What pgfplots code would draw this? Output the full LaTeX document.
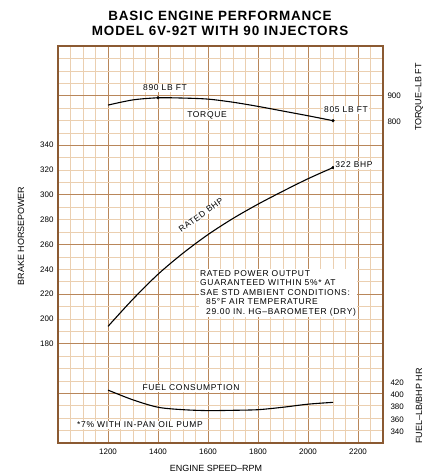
\documentclass[border=0pt]{standalone}
\usepackage{fontspec}
\setmainfont{Liberation Sans}
\usepackage{pgfplots}
\pgfplotsset{compat=1.18}
\definecolor{gmaj}{HTML}{B8865A}
\definecolor{gmin}{HTML}{EBCFB0}
\definecolor{gbord}{HTML}{8B5A32}
\newcommand{\ann}{\fontsize{8.5}{9.6}\selectfont\addfontfeatures{LetterSpace=8}}
\newcommand{\tck}{\fontsize{8}{9}\selectfont}
\pgfplotstableread{
rpm bhp
1200 194
1300 216
1400 236
1500 253
1600 268
1700 281
1800 292.5
1900 303
2000 313
2100 322
}\bhpdata
\pgfplotstableread{
rpm tq
1200 865
1300 885
1400 893
1500 892
1600 888
1700 876
1800 860
1900 842
2000 824
2100 805
}\tqdata
\pgfplotstableread{
rpm fuel
1200 408
1300 392
1400 380
1500 376
1600 374.5
1700 375
1800 376
1900 380
2000 385
2100 388
}\fueldata
\begin{document}
\begin{tikzpicture}[x=1bp,y=1bp]
\path[use as bounding box] (0,0) rectangle (433,474);
\begin{axis}[
  at={(58bp,31bp)}, anchor=south west,
  scale only axis, width=325bp, height=397bp,
  xmin=1000, xmax=2300, ymin=100, ymax=420,
  xtick={1000,1200,...,2200},
  xticklabels={,1200,1400,1600,1800,2000,2200},
  minor xtick={1050,1100,1150,1250,1300,1350,1450,1500,1550,1650,1700,1750,1850,1900,1950,2050,2100,2150,2250},
  ytick={100,140,...,420},
  yticklabels={},
  minor ytick={110,120,130,150,160,170,190,200,210,230,240,250,270,280,290,310,320,330,350,360,370,390,400,410},
  grid=both,
  major grid style={draw=gmaj, line width=0.8bp},
  minor grid style={draw=gmin, line width=0.6bp},
  axis line style={draw=gbord, line width=1.6bp},
  major tick length=0pt, minor tick length=0pt,
  extra y ticks={180,200,...,340},
  extra y tick labels={180,200,220,240,260,280,300,320,340},
  extra y tick style={grid=none, major tick length=0pt},
  tick label style={font=\tck},
  /pgf/number format/assume math mode=true,
  xticklabel style={yshift=-2bp},
  yticklabel style={xshift=-1bp},
  clip=false,
]
\addplot[black, line width=1.1bp, smooth] table[x=rpm,y=bhp] {\bhpdata};
\addplot[only marks, mark=*, mark size=1.4bp, black] coordinates {(2100,322)};
\end{axis}
\begin{axis}[
  at={(58bp,31bp)}, anchor=south west,
  scale only axis, width=325bp, height=397bp,
  xmin=1000, xmax=2300, ymin=-434.6, ymax=1092.3,
  hide x axis, axis y line*=right, y axis line style={draw=none},
  ytick={800,900}, major tick length=0pt,
  tick label style={font=\tck},
  /pgf/number format/assume math mode=true,
  yticklabel style={xshift=1bp},
  clip=false,
]
\addplot[black, line width=1.1bp, smooth] table[x=rpm,y=tq] {\tqdata};
\addplot[only marks, mark=*, mark size=1.4bp, black] coordinates {(1400,893) (2100,805)};
\end{axis}
\begin{axis}[
  at={(58bp,31bp)}, anchor=south west,
  scale only axis, width=325bp, height=397bp,
  xmin=1000, xmax=2300, ymin=321.6, ymax=970,
  hide x axis, axis y line*=right, y axis line style={draw=none},
  ytick={340,360,...,420}, major tick length=0pt,
  tick label style={font=\tck},
  /pgf/number format/assume math mode=true,
  yticklabel style={xshift=4bp},
  clip=false,
]
\addplot[black, line width=1.1bp, smooth] table[x=rpm,y=fuel] {\fueldata};
\end{axis}
% titles and axis names
\node[font=\fontsize{13.5}{15}\selectfont\bfseries\addfontfeatures{LetterSpace=6}] at (220,458) {BASIC ENGINE PERFORMANCE};
\node[font=\fontsize{13.5}{15}\selectfont\bfseries\addfontfeatures{LetterSpace=7}] at (220,443) {MODEL 6V-92T WITH 90 INJECTORS};
\node[font=\fontsize{9}{10}\selectfont] at (216,6) {ENGINE SPEED–RPM};
\node[font=\fontsize{9}{10}\selectfont, rotate=90] at (21,238) {BRAKE HORSEPOWER};
\node[font=\fontsize{9}{10}\selectfont, rotate=90] at (419,377) {TORQUE–LB FT};
\node[font=\fontsize{9}{10}\selectfont, rotate=90] at (419,68) {FUEL–LB/BHP HR};
% annotations
\node[font=\ann, fill=white, inner sep=1bp] at (165,386) {890 LB FT};
\node[font=\ann, fill=white, inner sep=1bp] at (207,359) {TORQUE};
\node[font=\ann, fill=white, inner sep=1bp] at (346,364) {805 LB FT};
\node[font=\ann, fill=white, inner sep=1bp] at (354,309) {322 BHP};
\node[font=\ann, fill=white, inner sep=0.5bp, rotate=36] at (201,259) {RATED BHP};
\node[font=\ann, fill=white, inner sep=1bp, align=left, anchor=north west] at (199,205) {RATED POWER OUTPUT\\GUARANTEED WITHIN 5\%* AT\\SAE STD AMBIENT CONDITIONS:\\\hspace*{6bp}85°F AIR TEMPERATURE\\\hspace*{6bp}29.00 IN. HG–BAROMETER (DRY)};
\node[font=\ann, fill=white, inner sep=1bp] at (191,86) {FUEL CONSUMPTION};
\node[font=\ann, fill=white, inner sep=1bp] at (140,49) {*7\% WITH IN-PAN OIL PUMP};
\end{tikzpicture}
\end{document}
